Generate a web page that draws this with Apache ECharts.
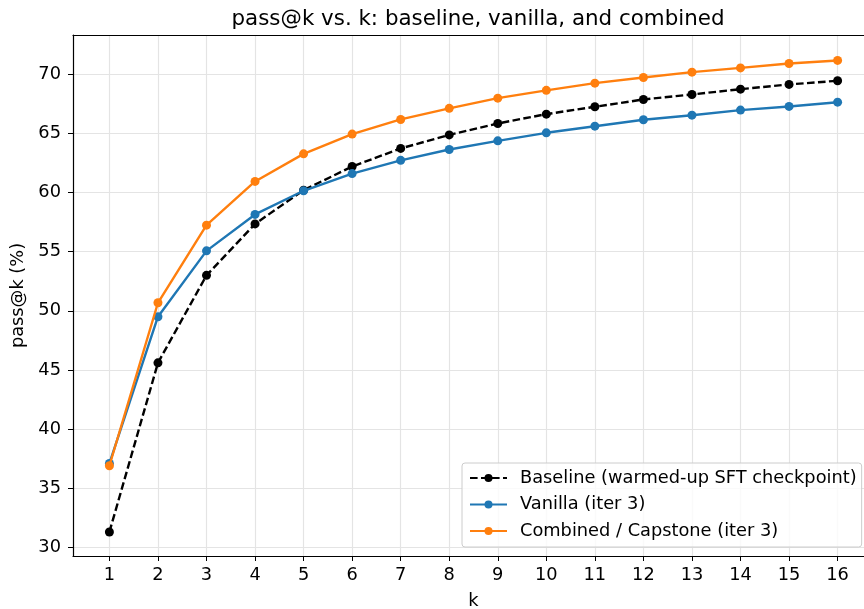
<!DOCTYPE html>
<html>
<head>
<meta charset="utf-8">
<script src="https://cdn.jsdelivr.net/npm/echarts@6/dist/echarts.min.js"></script>
<style>
  html, body { margin: 0; padding: 0; background: #fff; }
  #chart { width: 864px; height: 609px; }
</style>
</head>
<body>
<div id="chart"></div>
<script>
// pass@k values
const ks = [1, 2, 3, 4, 5, 6, 7, 8, 9, 10, 11, 12, 13, 14, 15, 16];
const baseline = [31.3, 45.6, 53.0, 57.35, 60.2, 62.2, 63.73, 64.87, 65.84, 66.63, 67.25, 67.87, 68.29, 68.74, 69.14, 69.45];
const vanilla = [37.1, 49.5, 55.07, 58.15, 60.15, 61.6, 62.72, 63.64, 64.37, 65.05, 65.61, 66.15, 66.54, 66.97, 67.28, 67.64];
const combined = [36.9, 50.68, 57.24, 60.94, 63.27, 64.94, 66.18, 67.12, 67.98, 68.64, 69.25, 69.73, 70.18, 70.54, 70.91, 71.17];
const yTicks = [30, 35, 40, 45, 50, 55, 60, 65, 70];

const FONT = 'DejaVu Sans';
const FS = 17.8;
const pairs = arr => ks.map((k, i) => [k, arr[i]]);

const option = {
  animation: false,
  textStyle: { fontFamily: FONT },
  title: {
    text: 'pass@k vs. k: baseline, vanilla, and combined',
    left: 473, top: 4, textAlign: 'center',
    textStyle: { fontFamily: FONT, fontSize: 21.4, fontWeight: 'normal', color: '#000' }
  },
  grid: {
    left: 73, top: 35, width: 801, height: 521,
    outerBoundsMode: 'none', containLabel: false, show: false
  },
  legend: {
    orient: 'vertical',
    left: 462, top: 463,
    padding: [6, 5, 7, 7],
    itemWidth: 37, itemHeight: 10, itemGap: 8.5,
    backgroundColor: 'rgba(255,255,255,0.8)',
    borderColor: '#cccccc', borderWidth: 1, borderRadius: 3,
    textStyle: { fontFamily: FONT, fontSize: FS, color: '#000', padding: [0, 0, 0, 8] },
    data: ['Baseline (warmed-up SFT checkpoint)', 'Vanilla (iter 3)', 'Combined / Capstone (iter 3)']
  },
  xAxis: [
    {
      type: 'value', min: 0.25, max: 16.75,
      name: 'k', nameLocation: 'middle', nameGap: 36,
      nameTextStyle: { fontFamily: FONT, fontSize: FS, color: '#000' },
      axisLine: { lineStyle: { color: '#000', width: 1.2 } },
      axisTick: { show: true, length: 5, customValues: ks, lineStyle: { color: '#000' } },
      axisLabel: { customValues: ks, fontFamily: FONT, fontSize: FS, color: '#000', margin: 10 },
      splitLine: { show: true, lineStyle: { color: '#e4e4e4', width: 1.2 } }
    },
    {
      // top spine only
      type: 'value', position: 'top', min: 0.25, max: 16.75,
      axisLine: { show: true, onZero: false, lineStyle: { color: '#000', width: 1.2 } },
      axisTick: { show: false }, axisLabel: { show: false }, splitLine: { show: false }
    }
  ],
  yAxis: {
    type: 'value', min: 29.27, max: 73.32,
    name: 'pass@k (%)', nameLocation: 'middle', nameGap: 43,
    nameTextStyle: { fontFamily: FONT, fontSize: FS, color: '#000' },
    axisLine: { show: true, lineStyle: { color: '#000', width: 1.2 } },
    axisTick: { show: true, length: 5, customValues: yTicks, lineStyle: { color: '#000' } },
    axisLabel: { customValues: yTicks, fontFamily: FONT, fontSize: FS, color: '#000', margin: 12 },
    splitLine: { show: true, lineStyle: { color: '#e4e4e4', width: 1.2 } }
  },
  series: [
    {
      name: 'Baseline (warmed-up SFT checkpoint)', type: 'line',
      data: pairs(baseline),
      symbol: 'circle', symbolSize: 9,
      lineStyle: { color: '#000', width: 2.4, type: [7.6, 3.4] },
      itemStyle: { color: '#000' }, z: 3
    },
    {
      name: 'Vanilla (iter 3)', type: 'line',
      data: pairs(vanilla),
      symbol: 'circle', symbolSize: 9,
      lineStyle: { color: '#1f77b4', width: 2.4 },
      itemStyle: { color: '#1f77b4' }, z: 4
    },
    {
      name: 'Combined / Capstone (iter 3)', type: 'line',
      data: pairs(combined),
      symbol: 'circle', symbolSize: 9,
      lineStyle: { color: '#ff7f0e', width: 2.4 },
      itemStyle: { color: '#ff7f0e' }, z: 5
    }
  ]
};

echarts.init(document.getElementById('chart'), null, { renderer: 'canvas' }).setOption(option);
</script>
</body>
</html>
